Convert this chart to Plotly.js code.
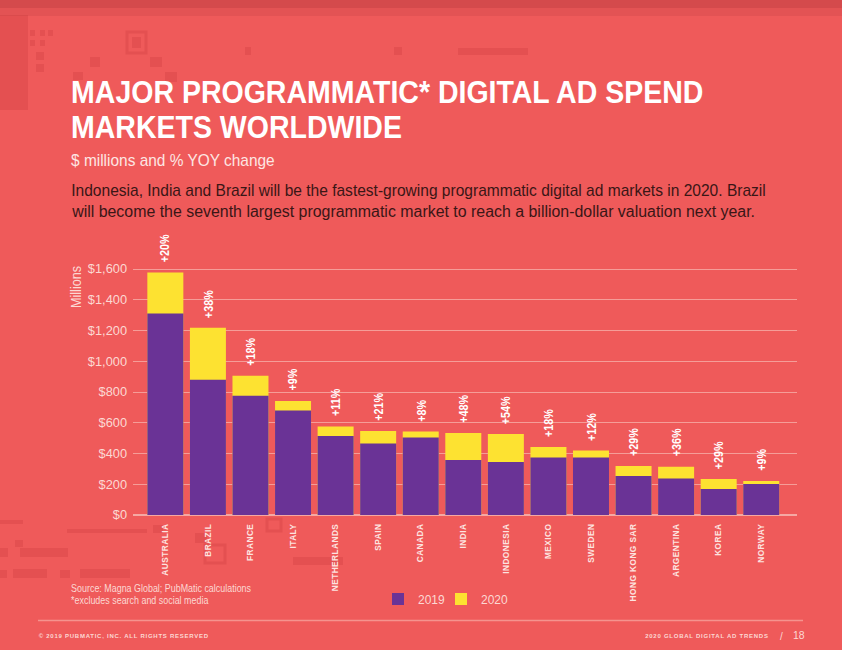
<!DOCTYPE html>
<html>
<head>
<meta charset="utf-8">
<script src="https://cdn.plot.ly/plotly-3.0.1.min.js"></script>
<style>
  html, body { margin:0; padding:0; background:#ef5a5a; }
  #chart { width:842px; height:650px; }
  .xtick text { letter-spacing: 0.45px; }
  .annotation[data-index="0"] text, .annotation[data-index="1"] text {
    transform-box: fill-box; transform-origin: 0% 50%; transform: scaleX(0.905);
  }
  .annotation[data-index="2"] text {
    transform-box: fill-box; transform-origin: 0% 50%; transform: scaleX(0.965);
  }
  .annotation[data-index="3"] text {
    transform-box: fill-box; transform-origin: 0% 50%; transform: scaleX(0.972);
  }
  .annotation[data-index="4"] text {
    transform-box: fill-box; transform-origin: 0% 50%; transform: scaleX(0.995);
  }
  .annotation[data-index="5"] text, .annotation[data-index="6"] text { letter-spacing: 0.75px; }
  .annotation[data-index="9"] text, .annotation[data-index="10"] text, .annotation[data-index="11"] text {
    transform-box: fill-box; transform-origin: 0% 50%; transform: scaleX(0.85);
  }
  .annotation[data-index="11"] text { transform: scaleX(0.9); }
  .pct text { transform-box: fill-box; transform-origin: 0% 50%; transform: scaleX(0.8); }
</style>
</head>
<body>
<div id="chart"></div>
<script>
// ---- data ----
const markets = ["AUSTRALIA","BRAZIL","FRANCE","ITALY","NETHERLANDS","SPAIN","CANADA","INDIA","INDONESIA","MEXICO","SWEDEN","HONG KONG SAR","ARGENTINA","KOREA","NORWAY"];
const spend2019 = [1310, 880, 775, 680, 514, 465, 504, 358, 345, 374, 374, 254, 237, 169, 202];
const spend2020 = [1578, 1218, 905, 741, 576, 546, 543, 533, 527, 442, 419, 319, 314, 234, 221];
const yoyChange = ["+20%","+38%","+18%","+9%","+11%","+21%","+8%","+48%","+54%","+18%","+12%","+29%","+36%","+29%","+9%"];
const yTickVals = [0, 200, 400, 600, 800, 1000, 1200, 1400, 1600];
const yTickText = ["$0","$200","$400","$600","$800","$1,000","$1,200","$1,400","$1,600"];

// ---- layout helpers (pixel -> paper) ----
const L = 133, R = 797, T = 261, B = 515;
const px = x => (x - L) / (R - L);
const py = y => (B - y) / (B - T);

const BG = "#ef5a5a", PURPLE = "#6a3396", YELLOW = "#fde231";
const FONT = "Liberation Sans, Arial, sans-serif";
const LIGHT = "#fcd8d3";

const traces = [
  { type: "bar", name: "2020", x: markets, y: spend2020, marker: { color: YELLOW }, legend: "legend2", hoverinfo: "skip" },
  { type: "bar", name: "2019", x: markets, y: spend2019, marker: { color: PURPLE }, legend: "legend", hoverinfo: "skip" }
];

const annotations = [
  { text: "MAJOR PROGRAMMATIC* DIGITAL AD SPEND", x: px(69), y: py(91.5), height: 32, font: { family: FONT, size: 31.5, color: "#ffffff", weight: 700 } },
  { text: "MARKETS WORLDWIDE", x: px(69), y: py(127), height: 32, font: { family: FONT, size: 31.5, color: "#ffffff", weight: 700 } },
  { text: "$ millions and % YOY change", x: px(69), y: py(160), font: { family: FONT, size: 16, color: "#fde6e3" } },
  { text: "Indonesia, India and Brazil will be the fastest-growing programmatic digital ad markets in 2020. Brazil", x: px(69), y: py(190), font: { family: FONT, size: 16, color: "#3a1616" } },
  { text: "will become the seventh largest programmatic market to reach a billion-dollar valuation next year.", x: px(69), y: py(212), font: { family: FONT, size: 16, color: "#3a1616" } },
  { text: "© 2019 PUBMATIC, INC. ALL RIGHTS RESERVED", x: px(124), xanchor: "center", y: py(636), font: { family: FONT, size: 6, color: LIGHT, weight: 700 } },
  { text: "2020 GLOBAL DIGITAL AD TRENDS", x: px(707), xanchor: "center", y: py(636), font: { family: FONT, size: 6, color: LIGHT, weight: 700 } },
  { text: "/", x: px(781), xanchor: "center", y: py(636), font: { family: FONT, size: 10, color: LIGHT } },
  { text: "18", x: px(799), xanchor: "center", y: py(635), font: { family: FONT, size: 10.5, color: LIGHT } },
  { text: "Source: Magna Global; PubMatic calculations", x: px(69), y: py(588), font: { family: FONT, size: 10.5, color: LIGHT } },
  { text: "*excludes search and social media", x: px(69), y: py(600), font: { family: FONT, size: 10.5, color: LIGHT } },
  { text: "Millions", x: px(76), xanchor: "center", y: py(285), textangle: -90, font: { family: FONT, size: 14, color: LIGHT } }
].map(a => Object.assign({ xref: "paper", yref: "paper", xanchor: "left", yanchor: "middle", showarrow: false }, a));

const pctStart = annotations.length;
markets.forEach((m, i) => {
  annotations.push({
    x: m, y: spend2020[i], xref: "x", yref: "y",
    text: yoyChange[i], textangle: -90, showarrow: false,
    xanchor: "center", yanchor: "bottom", yshift: 8,
    font: { family: FONT, size: 13.5, color: "#ffffff", weight: 700 }
  });
});

const DECO = "rgba(205,60,65,0.33)";
const deco = [
  [0, 15, 28, 110], [30, 30, 35, 36], [40, 30, 45, 36], [48, 30, 53, 36], [30, 40, 35, 46], [40, 40, 45, 46],
  [36, 52, 44, 60], [36, 64, 44, 72], [90, 57, 100, 67], [150, 57, 162, 67], [73, 72, 83, 80], [165, 72, 177, 82],
  [245, 47, 251, 55], [458, 48, 528, 55], [394, 47, 402, 55],
  [0, 520, 23, 524], [67, 529, 147, 533], [153, 525, 163, 533], [15, 540, 23, 547], [20, 548, 68, 557], [0, 548, 8, 557],
  [0, 570, 7, 578], [13, 569, 47, 578], [60, 570, 70, 578], [80, 569, 130, 578],
  [195, 533, 207, 543], [293, 557, 343, 565]
].map(r => ({ type: "rect", xref: "paper", yref: "paper", x0: px(r[0]), x1: px(r[2]), y0: py(r[1]), y1: py(r[3]), fillcolor: DECO, line: { width: 0 }, layer: "below" }));
[[125, 30, 148, 55], [203, 543, 227, 565], [265, 517, 283, 533]].forEach(r => {
  deco.push({ type: "rect", xref: "paper", yref: "paper", x0: px(r[0] + 2), x1: px(r[2] - 2), y0: py(r[1] + 2), y1: py(r[3] - 2), fillcolor: "rgba(0,0,0,0)", line: { color: DECO, width: 3 }, layer: "below" });
});
deco.push({ type: "rect", xref: "paper", yref: "paper", x0: px(132), x1: px(141), y0: py(37), y1: py(48), fillcolor: DECO, line: { width: 0 }, layer: "below" });
deco.push({ type: "rect", xref: "paper", yref: "paper", x0: px(0), x1: px(842), y0: py(0), y1: py(8), fillcolor: "rgba(180,55,60,0.45)", line: { width: 0 }, layer: "below" });
deco.push({ type: "rect", xref: "paper", yref: "paper", x0: px(0), x1: px(842), y0: py(8), y1: py(16), fillcolor: "rgba(180,55,60,0.2)", line: { width: 0 }, layer: "below" });
deco.push({ type: "line", xref: "paper", yref: "paper", x0: px(38), x1: px(803), y0: py(620.5), y1: py(620.5), line: { color: "#f5938e", width: 1.5 } });

const legendStyle = {
  orientation: "h", xanchor: "left", y: py(599), yanchor: "middle",
  font: { family: FONT, size: 12, color: LIGHT }, bgcolor: "rgba(0,0,0,0)"
};

const layout = {
  width: 842, height: 650,
  paper_bgcolor: BG, plot_bgcolor: BG,
  margin: { l: L, r: 842 - R, t: T, b: 650 - B, pad: 0 },
  barmode: "overlay", bargap: 0.154,
  showlegend: true,
  legend: Object.assign({ x: px(378) }, legendStyle),
  legend2: Object.assign({ x: px(441) }, legendStyle),
  xaxis: {
    type: "category", range: [-0.76, 14.84], fixedrange: true,
    showgrid: false, zeroline: false, showline: false, ticks: "",
    tickangle: -90, ticklabelstandoff: 6,
    tickfont: { family: FONT, size: 8.3, color: "#fde4e0", weight: 700 }
  },
  yaxis: {
    range: [0, 1652], fixedrange: true,
    tickvals: yTickVals, ticktext: yTickText,
    showgrid: true, gridcolor: "#f59d98", gridwidth: 1,
    zeroline: true, zerolinecolor: "#f5a8a3", zerolinewidth: 1.5,
    showline: false, ticks: "", ticklabelstandoff: 5,
    tickfont: { family: FONT, size: 12.8, color: LIGHT }
  },
  annotations: annotations,
  shapes: deco
};

Plotly.newPlot("chart", traces, layout, { displayModeBar: false, staticPlot: true }).then(gd => {
  gd.querySelectorAll(".annotation").forEach(g => {
    const idx = +g.getAttribute("data-index");
    if (idx >= pctStart) g.classList.add("pct");
  });
});
</script>
</body>
</html>
